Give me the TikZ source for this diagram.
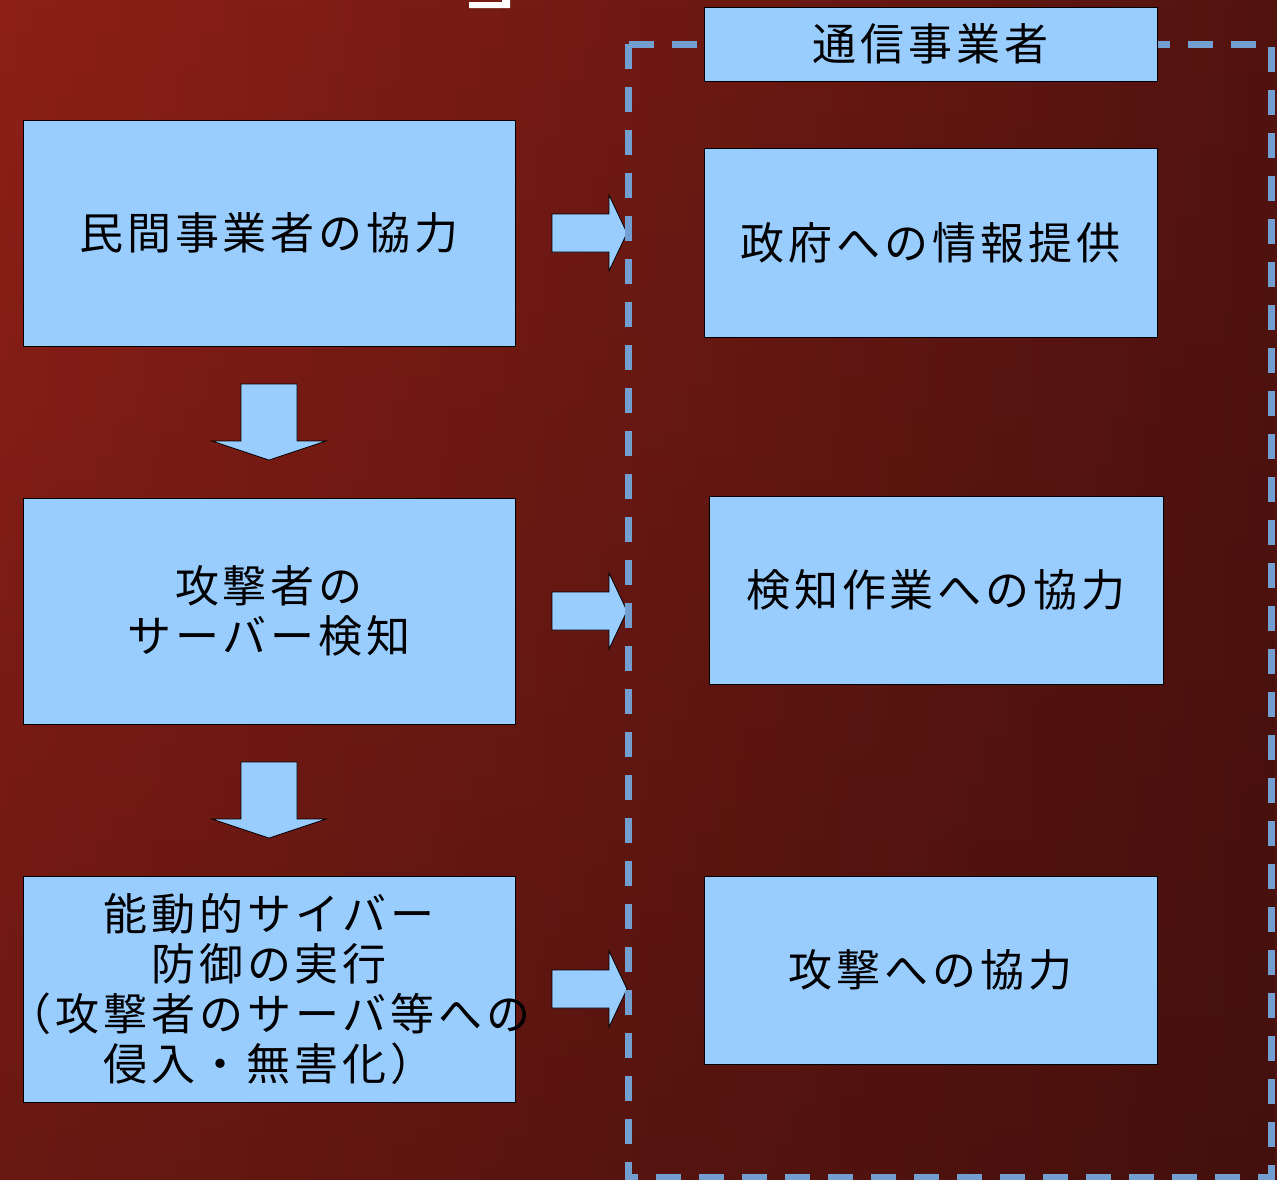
\documentclass[tikz,border=0pt]{standalone}
\usepackage{fontspec}
\usetikzlibrary{fadings}
\newfontfamily\jp[LetterSpace=9]{Noto Sans CJK JP}
\definecolor{bgA}{RGB}{142,32,23}
\definecolor{bgB}{RGB}{82,19,15}
\definecolor{bgC}{RGB}{40,10,9}
\definecolor{boxblue}{RGB}{153,204,255}
\definecolor{dashblue}{RGB}{114,159,207}
\tikzset{
  box/.style={draw=black, fill=boxblue, line width=1pt, inner sep=0pt, align=center,
    font=\jp\fontsize{44}{50}\selectfont},
  blockarrow/.style={draw=black, fill=boxblue, line width=0.8pt, line join=miter},
  group/.style={draw=dashblue, line width=7pt, dash pattern=on 25pt off 18pt}
}
\begin{document}
\begin{tikzpicture}[x=1pt,y=-1pt]
\useasboundingbox (0,0) rectangle (1277,1179);
% background
\shade[left color=bgA, right color=bgB] (0,0) rectangle (1277,1179);
\fill[bgC, path fading=north, fill opacity=0.35] (0,0) rectangle (1277,1179);
% cut-off title bracket
\fill[white] (469,2) -- (502,2) -- (502,0) -- (510,0) -- (510,8) -- (469,8) -- cycle;

% left column
\node[box, minimum width=492pt, minimum height=226pt] (l1) at (269,233) {民間事業者の協力};
\node[box, minimum width=492pt, minimum height=226pt] (l2) at (269,611) {攻撃者の\\サーバー検知};
\node[box, minimum width=492pt, minimum height=226pt] (l3) at (269,989) {能動的サイバー\\防御の実行\\\makebox[400pt][c]{（攻撃者のサーバ等への}\\侵入・無害化）};

% down arrows
\draw[blockarrow] (241,384) -- (297,384) -- (297,441) -- (326,441) -- (269,460) -- (212,441) -- (241,441) -- cycle;
\draw[blockarrow] (241,762) -- (297,762) -- (297,819) -- (326,819) -- (269,838) -- (212,819) -- (241,819) -- cycle;

% right arrows
\foreach \yy in {233,611,989}{
  \draw[blockarrow] (552,\yy-19) -- (609,\yy-19) -- (609,\yy-38) -- (627,\yy) -- (609,\yy+38) -- (609,\yy+19) -- (552,\yy+19) -- cycle;
}

% dashed group frame
\draw[group] (628,44) rectangle (1271,1177);

% right column
\node[box, minimum width=453pt, minimum height=74pt] (hd) at (930.5,44) {通信事業者};
\node[box, minimum width=453pt, minimum height=189pt] (r1) at (930.5,242.5) {政府への情報提供};
\node[box, minimum width=454pt, minimum height=188pt] (r2) at (936,590) {検知作業への協力};
\node[box, minimum width=453pt, minimum height=188pt] (r3) at (930.5,970) {攻撃への協力};
\end{tikzpicture}
\end{document}
